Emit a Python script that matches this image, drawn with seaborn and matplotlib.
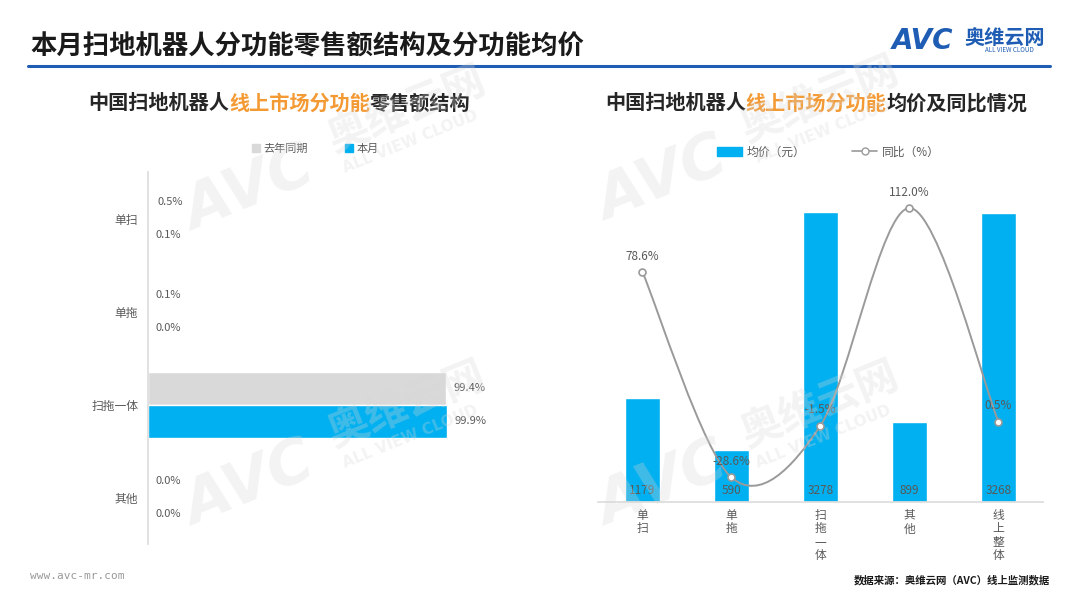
import numpy as np
import pandas as pd
import matplotlib
matplotlib.use('Agg')
import matplotlib.pyplot as plt
from matplotlib.path import Path
from matplotlib.patches import PathPatch, Patch
from matplotlib.lines import Line2D
import seaborn as sns

# 数据：分功能零售额结构 (%)
funcs = ['单扫', '单拖', '扫拖一体', '其他']
share_last_year = [0.5, 0.1, 99.4, 0.0]
share_this_month = [0.1, 0.0, 99.9, 0.0]
periods = ['去年同期', '本月']

# 数据：分功能均价及同比
price_cats = ['单扫', '单拖', '扫拖一体', '其他', '线上整体']
price = [1179, 590, 3278, 899, 3268]
yoy = [78.6, -28.6, -1.5, 112.0, 0.5]

BLUE = '#00B0F0'
GRAY = '#D9D9D9'
ORANGE = '#F39A35'
TXT = '#595959'
DARK_BLUE = '#1F5DB5'

sns.set_theme(style='white')
plt.rcParams['font.family'] = ['Noto Sans CJK SC', 'DejaVu Sans']

fig = plt.figure(figsize=(10.8, 6.08), dpi=100)

# 标题 + 蓝线 + logo
fig.text(0.028, 0.922, '本月扫地机器人分功能零售额结构及分功能均价', fontsize=19,
         fontweight='bold', color='#1a1a1a', va='center')
fig.add_artist(Line2D([0.026, 0.972], [0.891, 0.891], color=DARK_BLUE, lw=2.2,
                      transform=fig.transFigure))
fig.text(0.826, 0.933, 'AVC', fontsize=20, fontweight='bold', style='italic',
         color=DARK_BLUE, va='center', family='DejaVu Sans')
fig.text(0.893, 0.939, '奥维云网', fontsize=14.5, fontweight='bold', color=DARK_BLUE, va='center')
fig.text(0.935, 0.917, 'ALL VIEW CLOUD', fontsize=4.5, color=DARK_BLUE, va='center', ha='center')


def colored_title(ax, x, y, parts):
    t = fig.text(x, y, parts[0][0], color=parts[0][1], fontsize=14.5,
                 fontweight='bold', va='center')
    for s, c in parts[1:]:
        t = ax.annotate(s, xy=(1, 0.5), xycoords=t, va='center', ha='left',
                        color=c, fontsize=14.5, fontweight='bold')


# ---------- 左图：零售额结构 ----------
ax1 = fig.add_axes([0.137, 0.105, 0.307, 0.612])
df1 = pd.DataFrame({
    '功能': funcs * 2,
    '期间': [periods[0]] * len(funcs) + [periods[1]] * len(funcs),
    '份额': share_last_year + share_this_month,
})
sns.barplot(data=df1, x='份额', y='功能', hue='期间', hue_order=periods,
            palette=[GRAY, BLUE], orient='h', width=0.71, saturation=1,
            legend=False, ax=ax1)
ax1.set_xlim(0, 110.7)
ax1.set_xlabel('')
ax1.set_ylabel('')
ax1.set_xticks([])
for s in ['top', 'right', 'bottom']:
    ax1.spines[s].set_visible(False)
ax1.spines['left'].set_color('#DDDDDD')
ax1.tick_params(axis='y', length=0, pad=7, labelsize=8.5, labelcolor=TXT)
for cont in ax1.containers:
    ax1.bar_label(cont, fmt='%.1f%%', padding=5.5, fontsize=8, color=TXT)

colored_title(ax1, 0.0815, 0.831, [('中国扫地机器人', '#262626'),
                                   ('线上市场分功能', ORANGE),
                                   ('零售额结构', '#262626')])
fig.legend([Patch(color=GRAY), Patch(color=BLUE)], periods, loc='center',
           bbox_to_anchor=(0.292, 0.756), ncol=2, frameon=False, fontsize=8,
           handlelength=0.75, handleheight=0.75, handletextpad=0.3,
           columnspacing=3.3, labelcolor=TXT)

# ---------- 右图：均价及同比 ----------
ax2 = fig.add_axes([0.5537, 0.1743, 0.412, 0.5296])
sns.barplot(x=price_cats, y=price, color=BLUE, saturation=1, width=0.4, ax=ax2)
ax2.set_xlim(-0.5, 4.5)
ax2.set_ylim(0, 3640)
ax2.set_yticks([])
for s in ['top', 'right', 'left']:
    ax2.spines[s].set_visible(False)
ax2.spines['bottom'].set_color('#DDDDDD')
ax2.set_xticks(range(len(price_cats)))
ax2.set_xticklabels(['\n'.join(c) for c in price_cats], fontsize=8.5, color=TXT,
                    linespacing=1.05, va='top')
ax2.tick_params(axis='x', length=0, pad=5)
for i, v in enumerate(price):
    ax2.annotate(f'{v}', (i, 0), xytext=(0, 8.6), textcoords='offset points',
                 ha='center', va='center', fontsize=8.5, color=TXT)

ax3 = ax2.twinx()
xs = np.arange(len(yoy))
pts = np.column_stack([xs, yoy]).astype(float)
n = len(pts)
k = 0.16  # 平滑系数
verts = [pts[0]]
codes = [Path.MOVETO]
for i in range(n - 1):
    p0 = pts[max(i - 1, 0)]
    p1 = pts[i]
    p2 = pts[i + 1]
    p3 = pts[min(i + 2, n - 1)]
    verts += [p1 + (p2 - p0) * k, p2 - (p3 - p1) * k, p2]
    codes += [Path.CURVE4] * 3
ax3.add_patch(PathPatch(Path(verts, codes), facecolor='none', edgecolor='#9A9A9A',
                        lw=1.4, zorder=4))
sns.scatterplot(x=xs, y=yoy, ax=ax3, s=25, color='white', edgecolor='#9A9A9A',
                linewidth=1.2, zorder=5)
for i, v in enumerate(yoy):
    ax3.annotate(f'{v:.1f}%', (i, v), xytext=(0, 11.5), textcoords='offset points',
                 ha='center', va='center', fontsize=8.5, color=TXT, zorder=6)
ax3.set_ylim(-41.4, 126.6)
ax3.set_yticks([])
for s in ax3.spines.values():
    s.set_visible(False)
ax2.set_xlim(-0.5, 4.5)

colored_title(ax2, 0.560, 0.831, [('中国扫地机器人', '#262626'),
                                  ('线上市场分功能', ORANGE),
                                  ('均价及同比情况', '#262626')])
fig.legend([Patch(color=BLUE),
            Line2D([], [], color='#9A9A9A', marker='o', markerfacecolor='white',
                   markersize=5, lw=1.2)],
           ['均价（元）', '同比（%）'], loc='center', bbox_to_anchor=(0.767, 0.75),
           ncol=2, frameon=False, fontsize=8.5, handlelength=2.1, handleheight=0.9,
           handletextpad=0.4, columnspacing=4, labelcolor=TXT)


# 水印
def watermark(px, py):
    fx, fy = px / 1080, 1 - py / 608
    kw = dict(color='#d8d8d8', alpha=0.3, rotation=22, ha='center', va='center', zorder=10)
    fig.text(fx, fy, 'AVC', fontsize=44, fontweight='bold', style='italic',
             family='DejaVu Sans', **kw)
    fig.text(fx + 157 / 1080, fy + 80 / 608, '奥维云网', fontsize=30, fontweight='bold', **kw)
    fig.text(fx + 160 / 1080, fy + 48 / 608, 'ALL VIEW CLOUD', fontsize=11,
             fontweight='bold', family='DejaVu Sans', **kw)


for p in [(250, 190), (250, 485), (663, 180), (663, 485)]:
    watermark(*p)

# 页脚
fig.text(0.028, 0.053, 'www.avc-mr.com', fontsize=8, color='#999999',
         family='DejaVu Sans Mono', va='center')
fig.text(0.972, 0.046, '数据来源：奥维云网（AVC）线上监测数据', fontsize=7.5,
         fontweight='bold', color='#1a1a1a', ha='right', va='center')

fig.savefig('out.png', dpi=100)
